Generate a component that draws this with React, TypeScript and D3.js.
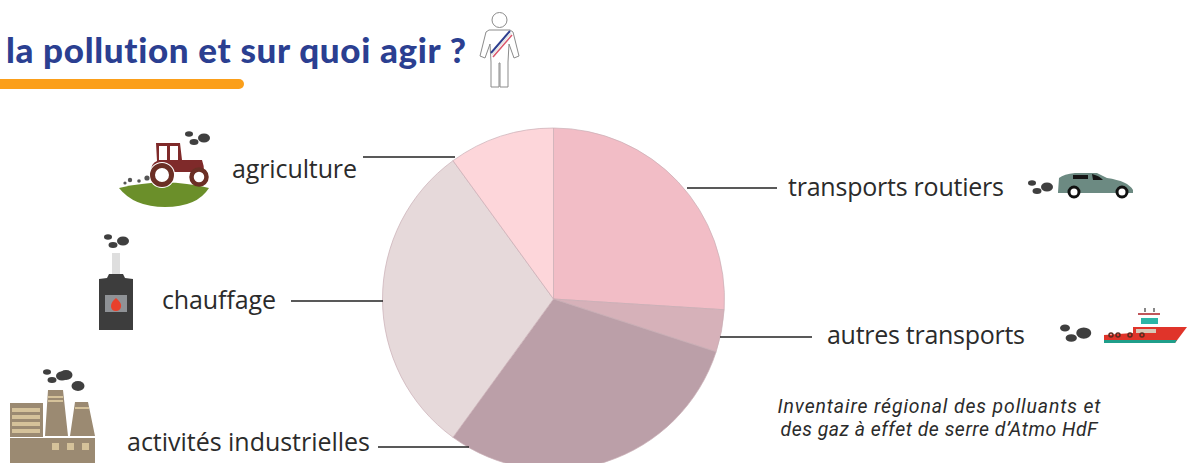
import React from "react";
import * as d3 from "d3";

const categories = ["transports routiers", "autres transports", "activités industrielles", "chauffage", "agriculture"];
const shares = [26, 4, 30, 30, 10];
const sliceColors = ["#f2bdc6", "#d6b1b9", "#bb9fa8", "#e6d9da", "#fdd6da"];
const title = "la pollution et sur quoi agir ?";
const sourceLines = ["Inventaire régional des polluants et", "des gaz à effet de serre d’Atmo HdF"];

const W = 1192, H = 463;
const cx = 553.5, cy = 299, R = 171;
const FONT = "'Open Sans', 'Noto Sans', sans-serif";

const labels = [
  { i: 0, x: 788, y: 196, w: 216, x1: 687, y1: 188, x2: 777, y2: 188 },
  { i: 1, x: 827, y: 344, w: 198, x1: 720, y1: 337, x2: 812, y2: 337 },
  { i: 2, x: 127, y: 451, w: 243, x1: 378, y1: 447, x2: 469, y2: 447 },
  { i: 3, x: 162, y: 309, w: 114, x1: 291, y1: 301, x2: 383, y2: 301 },
  { i: 4, x: 232, y: 178, w: 125, x1: 363, y1: 157, x2: 455, y2: 157 },
];

function Smoke({ x, y, s = 1 }: { x: number; y: number; s?: number }) {
  return (
    <g transform={`translate(${x},${y}) scale(${s})`} fill="#3f3f3f">
      <ellipse cx={0} cy={0} rx={4} ry={2.8} />
      <ellipse cx={5} cy={8} rx={4.5} ry={3} />
      <ellipse cx={15} cy={4} rx={6} ry={4.5} />
    </g>
  );
}

function Person() {
  return (
    <g fill="none" stroke="#8b8b8b" strokeWidth={1}>
      <circle cx={499.5} cy={20} r={7.5} />
      <path d="M489 30 H510 Q514 31 514 36 L519 56 L514 58 L509 44 L508 62 V87 H500 V63 H499 V87 H491 V62 L490 44 L485 58 L480 56 L485 36 Q485 31 489 30 Z" />
      <path d="M491 53 L510 31" stroke="#2e3f8f" strokeWidth={2} />
      <path d="M492 55 L511 33" stroke="#e3e3e3" strokeWidth={1.5} />
      <path d="M493 57 L512 35" stroke="#d9566b" strokeWidth={1.5} />
    </g>
  );
}

function Tractor() {
  return (
    <g>
      <path d="M119 188 Q165 177 209 188 Q197 207 165 207 Q134 207 119 188 Z" fill="#6b8f2a" />
      <path d="M156 143 H180 L182 160 H202 Q204 165 204 172 H151 Q151 163 157 161 Z" fill="#7f2a2a" />
      <rect x={159} y={146} width={8} height={14} fill="#fff" />
      <rect x={170} y={146} width={8} height={14} fill="#fff" />
      <circle cx={162} cy={175} r={13} fill="#fff" />
      <circle cx={162} cy={175} r={9.5} fill="#fff" stroke="#6b2f25" strokeWidth={5} />
      <circle cx={199} cy={177} r={7.5} fill="#fff" stroke="#6b2f25" strokeWidth={4.5} />
      <Smoke x={189} y={134} s={1} />
      <g fill="#555">
        <circle cx={125} cy={183} r={1.6} />
        <circle cx={130} cy={180} r={2.2} />
        <circle cx={139} cy={181} r={1.8} />
        <circle cx={147} cy={178} r={2.6} />
      </g>
    </g>
  );
}

function Stove() {
  return (
    <g>
      <Smoke x={108} y={237} s={1} />
      <rect x={112} y={253} width={8} height={22} fill="#dedede" />
      <path d="M107 278 L109 274 H123 L125 278 L133 279 V330 H99 V279 Z" fill="#3d3d3d" />
      <rect x={105} y={295} width={22} height={17} fill="#8f9296" />
      <path d="M116 298 Q122 303 121 307 Q120 311 116 311 Q111 311 111 306 Q111 302 116 298 Z" fill="#e8402b" />
    </g>
  );
}

function Factory() {
  return (
    <g>
      <Smoke x={47} y={372} s={1} />
      <ellipse cx={66} cy={375} rx={6.5} ry={5} fill="#3f3f3f" />
      <ellipse cx={78} cy={386} rx={6.5} ry={5} fill="#3f3f3f" />
      <path d="M10 403 H43 V437 H10 Z M48 390 H63 L68 436 H45 Z M75 402 H88 L95 436 H70 Z M10 438 H95 V463 H10 Z" fill="#9b8a72" />
      <g fill="#d5c29a">
        <rect x={12} y={408} width={28} height={4} />
        <rect x={12} y={415} width={28} height={4} />
        <rect x={12} y={422} width={28} height={4} />
        <rect x={12} y={429} width={28} height={4} />
        <rect x={48} y={396} width={15} height={2} />
        <rect x={48} y={400} width={15} height={2} />
        <rect x={75} y={407} width={14} height={2} />
        <rect x={52} y={443} width={7} height={7} />
        <rect x={67} y={443} width={7} height={7} />
        <rect x={82} y={443} width={7} height={7} />
      </g>
    </g>
  );
}

function Car() {
  return (
    <g>
      <Smoke x={1032} y={183} s={1} />
      <path d="M1058 192 L1059 178 Q1064 174 1075 173 H1097 L1107 178 Q1128 181 1133 190 V193 H1058 Z" fill="#6c8a82" />
      <path d="M1073 175 H1088 V179 H1073 Z M1092 174 Q1100 176 1103 180 H1093 Z" fill="#151515" />
      <circle cx={1074} cy={192} r={5} fill="#fff" stroke="#111" strokeWidth={3} />
      <circle cx={1122} cy={192} r={5} fill="#fff" stroke="#111" strokeWidth={3} />
    </g>
  );
}

function Ship() {
  return (
    <g>
      <Smoke x={1065} y={328} s={1.25} />
      <rect x={1144} y={308} width={2} height={4} fill="#888" />
      <rect x={1153} y={308} width={2} height={4} fill="#888" />
      <rect x={1138} y={313} width={22} height={2} fill="#c0565a" />
      <rect x={1141} y={318} width={17} height={6} fill="#2cb5a6" />
      <path d="M1104 335 L1133 333 V327 H1187 L1175 343 H1104 Z" fill="#e0342a" />
      <rect x={1136} y={329} width={20} height={4} fill="#d8c8b8" />
      <path d="M1104 340 H1177 L1175 343 H1104 Z" fill="#1f9e8a" />
      <g fill="none" stroke="#5c2a20" strokeWidth={1.5}>
        <circle cx={1111} cy={335} r={2} />
        <circle cx={1118} cy={335} r={2} />
        <circle cx={1130} cy={335} r={2} />
        <circle cx={1142} cy={335} r={2} />
      </g>
    </g>
  );
}

export default function App() {
  const pie = d3.pie<number>().sort(null)(shares);
  const arc = d3.arc<d3.PieArcDatum<number>>().innerRadius(0).outerRadius(R);
  return (
    <svg
      width={W}
      height={H}
      viewBox={`0 0 ${W} ${H}`}
      style={{ position: "fixed", left: 0, top: 0, background: "#fff", display: "block" }}
    >
      <text
        x={6}
        y={63}
        fontFamily="Lato, sans-serif"
        fontWeight={900}
        fontSize={35}
        fill="#2b3f91"
        textLength={460}
        style={{ fontVariantLigatures: "none" }}
      >
        {title}
      </text>
      <path d="M0 79 H239 A5 5 0 0 1 239 89 H0 Z" fill="#fb9f1a" />
      <Person />
      <g transform={`translate(${cx},${cy})`}>
        {pie.map((d, i) => (
          <path key={i} d={arc(d) ?? ""} fill={sliceColors[i]} stroke="#c9aeb4" strokeWidth={0.7} />
        ))}
      </g>
      {labels.map((l) => (
        <g key={l.i}>
          <line x1={l.x1} y1={l.y1} x2={l.x2} y2={l.y2} stroke="#222" strokeWidth={1.3} />
          <text x={l.x} y={l.y} fontFamily={FONT} fontSize={25} fill="#2b2b2b" textLength={l.w}>
            {categories[l.i]}
          </text>
        </g>
      ))}
      {sourceLines.map((t, i) => (
        <text
          key={i}
          x={939}
          y={413 + i * 23}
          textAnchor="middle"
          fontFamily="Roboto, sans-serif"
          fontStyle="italic"
          fontSize={19.4}
          fill="#2b2b2b"
          textLength={i === 0 ? 323 : 317}
        >
          {t}
        </text>
      ))}
      <Tractor />
      <Stove />
      <Factory />
      <Car />
      <Ship />
    </svg>
  );
}
